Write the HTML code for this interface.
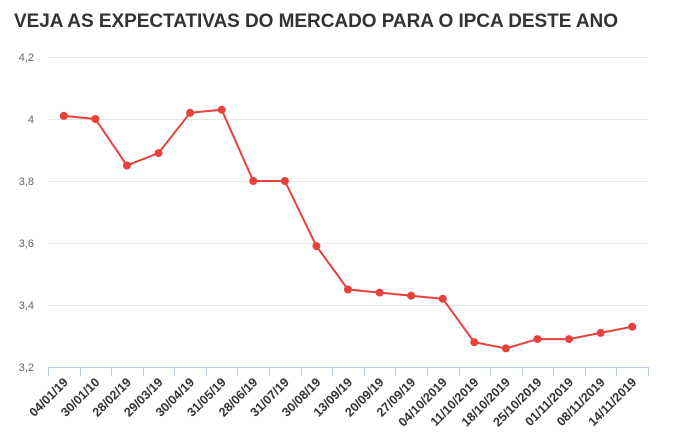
<!DOCTYPE html>
<html><head><meta charset="utf-8"><style>
body{margin:0;background:#fff;}
svg{display:block;font-family:"Liberation Sans","DejaVu Sans",sans-serif;}
</style></head><body>
<svg width="684" height="446" viewBox="0 0 684 446" xmlns="http://www.w3.org/2000/svg">
<text x="14" y="27" font-size="19" font-weight="bold" fill="#333" textLength="604">VEJA AS EXPECTATIVAS DO MERCADO PARA O IPCA DESTE ANO</text>
<g stroke="#e6e6e6" stroke-width="1">
<line x1="48" x2="648" y1="57.5" y2="57.5"/>
<line x1="48" x2="648" y1="119.5" y2="119.5"/>
<line x1="48" x2="648" y1="181.5" y2="181.5"/>
<line x1="48" x2="648" y1="243.5" y2="243.5"/>
<line x1="48" x2="648" y1="305.5" y2="305.5"/>
</g>
<g font-size="11" fill="#666" text-anchor="end">
<text x="34" y="61">4,2</text><text x="34" y="123">4</text><text x="34" y="185">3,8</text>
<text x="34" y="247">3,6</text><text x="34" y="309">3,4</text><text x="34" y="371">3,2</text>
</g>
<line x1="48" x2="648" y1="367.5" y2="367.5" stroke="#c0d0e0"/>
<g id="ticks" stroke="#c0d0e0"></g>
<g id="labels" font-size="12.5" font-weight="bold" fill="#333" text-anchor="end"></g>
<polyline id="line" fill="none" stroke="#e8413b" stroke-width="2"/>
<g id="dots" fill="#e8413b"></g>
</svg>
<script>
var v=[4.01,4.00,3.85,3.89,4.02,4.03,3.80,3.80,3.59,3.45,3.44,3.43,3.42,3.28,3.26,3.29,3.29,3.31,3.33];
var l=["04/01/19","30/01/10","28/02/19","29/03/19","30/04/19","31/05/19","28/06/19","31/07/19","30/08/19","13/09/19","20/09/19","27/09/19","04/10/2019","11/10/2019","18/10/2019","25/10/2019","01/11/2019","08/11/2019","14/11/2019"];
var ns="http://www.w3.org/2000/svg",w=600/19,pts=[];
function el(t,a,p){var e=document.createElementNS(ns,t);for(var k in a)e.setAttribute(k,a[k]);document.getElementById(p).appendChild(e);return e;}
for(var i=0;i<=19;i++){var x=Math.round(48+i*w)+0.5;el("line",{x1:x,x2:x,y1:367,y2:376},"ticks");}
for(var i=0;i<19;i++){var x=48+(i+0.5)*w,y=367-(v[i]-3.2)*310;pts.push(x+","+y);
el("circle",{cx:x,cy:y,r:4},"dots");
var t=el("text",{transform:"translate("+(x+5)+",383) rotate(-45)"},"labels");t.textContent=l[i];}
document.getElementById("line").setAttribute("points",pts.join(" "));
</script>
</body></html>
